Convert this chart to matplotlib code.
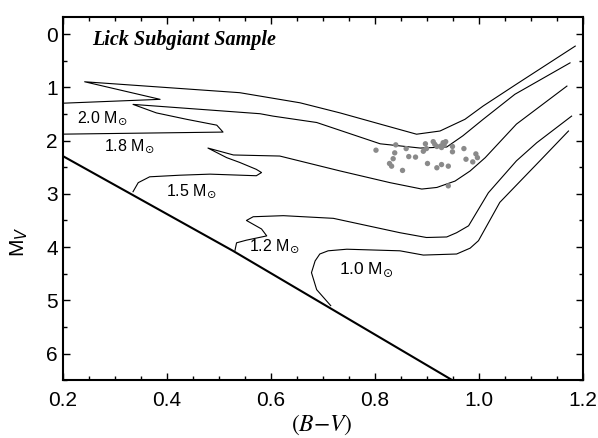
import matplotlib
matplotlib.use("Agg")
import matplotlib.pyplot as plt
from matplotlib.ticker import MultipleLocator

plt.rcParams['font.family'] = ['Liberation Sans', 'DejaVu Sans']

# ---- data ----
zams_bv = [0.2, 0.527, 0.947]
zams_mv = [2.29, 4.07, 6.49]

trk20_bv = [0.194, 0.387, 0.242, 0.540, 0.656, 0.733, 0.810, 0.880, 0.925, 0.973, 1.008, 1.072, 1.185]
trk20_mv = [1.30, 1.225, 0.895, 1.10, 1.29, 1.48, 1.69, 1.88, 1.82, 1.60, 1.35, 0.94, 0.225]

trk18_bv = [0.19, 0.508, 0.496, 0.438, 0.380, 0.335, 0.579, 0.604, 0.688, 0.810, 0.887, 0.938, 0.969, 1.008, 1.069, 1.175]
trk18_mv = [1.88, 1.84, 1.71, 1.60, 1.48, 1.32, 1.495, 1.54, 1.66, 2.06, 2.14, 2.12, 1.91, 1.60, 1.13, 0.54]

trk15_bv = [0.335, 0.345, 0.367, 0.425, 0.483, 0.572, 0.582, 0.572, 0.540, 0.515, 0.479, 0.528, 0.617,
            0.733, 0.829, 0.890, 0.919, 0.954, 0.983, 1.012, 1.072, 1.169]
trk15_mv = [2.96, 2.79, 2.68, 2.65, 2.63, 2.66, 2.60, 2.54, 2.41, 2.32, 2.14, 2.27, 2.29,
            2.57, 2.79, 2.91, 2.88, 2.76, 2.57, 2.32, 1.69, 0.976]

trk12_bv = [0.531, 0.534, 0.553, 0.592, 0.582, 0.553, 0.566, 0.624, 0.720, 0.848, 0.899, 0.938, 0.957,
            0.980, 1.018, 1.072, 1.111, 1.178]
trk12_mv = [4.06, 3.92, 3.87, 3.79, 3.66, 3.50, 3.43, 3.41, 3.46, 3.73, 3.82, 3.81, 3.73,
            3.60, 2.98, 2.38, 2.04, 1.54]

trk10_bv = [0.715, 0.688, 0.678, 0.685, 0.694, 0.710, 0.746, 0.848, 0.893, 0.957, 0.983, 0.999, 1.040, 1.117, 1.172]
trk10_mv = [5.10, 4.80, 4.48, 4.26, 4.13, 4.07, 4.04, 4.07, 4.15, 4.13, 4.02, 3.88, 3.16, 2.38, 1.82]

star_bv = [0.802, 0.840, 0.860, 0.838, 0.835, 0.828, 0.832, 0.853, 0.865, 0.878, 0.897, 0.912, 0.915,
           0.919, 0.893, 0.899, 0.927, 0.931, 0.936, 0.933, 0.928, 0.949, 0.949, 0.971, 0.994,
           0.997, 0.975, 0.988, 0.901, 0.919, 0.928, 0.941, 0.941]
star_mv = [2.18, 2.08, 2.15, 2.23, 2.34, 2.43, 2.48, 2.56, 2.30, 2.31, 2.06, 2.02, 2.07,
           2.11, 2.20, 2.15, 2.10, 2.04, 2.02, 2.08, 2.13, 2.11, 2.21, 2.15, 2.25,
           2.32, 2.35, 2.40, 2.43, 2.51, 2.45, 2.48, 2.85]

track_labels = [r'2.0 M$_{\odot}$', r'1.8 M$_{\odot}$', r'1.5 M$_{\odot}$', r'1.2 M$_{\odot}$', r'1.0 M$_{\odot}$']
label_bv = [0.275, 0.327, 0.446, 0.606, 0.783]
label_mv = [1.575, 2.10, 2.95, 3.98, 4.43]
label_size = [11.5, 11.5, 11.5, 11.5, 12.5]

# ---- figure ----
fig = plt.figure(figsize=(5.98, 4.38), dpi=100)
ax = fig.add_axes([0.105, 0.132, 0.870, 0.829])

ax.plot(zams_bv, zams_mv, color='black', lw=1.5)
for bv, mv in [(trk20_bv, trk20_mv), (trk18_bv, trk18_mv), (trk15_bv, trk15_mv),
               (trk12_bv, trk12_mv), (trk10_bv, trk10_mv)]:
    ax.plot(bv, mv, color='black', lw=0.8)

ax.scatter(star_bv, star_mv, s=15, color='#8a8a8a', edgecolors='none', zorder=3)

for t, x, y, fs in zip(track_labels, label_bv, label_mv, label_size):
    ax.text(x, y, t, fontsize=fs, ha='center', va='center')

ax.text(0.056, 0.937, 'Lick Subgiant Sample', transform=ax.transAxes,
        family='Liberation Serif', style='italic', weight='bold', fontsize=14.5,
        ha='left', va='center')

ax.set_xlim(0.2, 1.2)
ax.set_ylim(6.5, -0.32)
ax.xaxis.set_major_locator(MultipleLocator(0.2))
ax.xaxis.set_minor_locator(MultipleLocator(0.05))
ax.yaxis.set_major_locator(MultipleLocator(1))
ax.yaxis.set_minor_locator(MultipleLocator(0.5))
ax.xaxis.set_major_formatter(plt.FuncFormatter(lambda v, p: f'{v:.1f}'))
ax.yaxis.set_major_formatter(plt.FuncFormatter(lambda v, p: f'{v:.0f}'))

ax.tick_params(which='both', direction='in', top=True, right=True, width=1.0,
               labelsize=15)
ax.tick_params(which='major', length=5)
ax.tick_params(which='minor', length=3)
ax.tick_params(axis='x', pad=8)
for s in ax.spines.values():
    s.set_linewidth(1.5)

xl = ax.set_xlabel(r'$(\mathbf{\mathit{B}}{-}\mathbf{\mathit{V}})$', fontsize=17, math_fontfamily='stix')
xl.set_va('center')
ax.xaxis.set_label_coords(0.498, -0.124)
yl = ax.set_ylabel(r'M$_{V}$', fontsize=15)
yl.set_va('center')
ax.yaxis.set_label_coords(-0.083, 0.38)

fig.savefig('out.png', dpi=100)
